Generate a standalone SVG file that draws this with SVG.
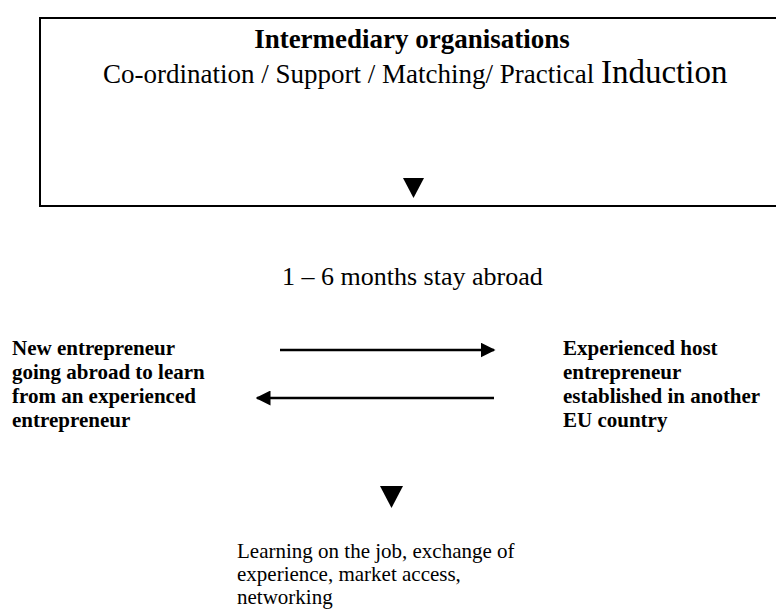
<svg xmlns="http://www.w3.org/2000/svg" width="776" height="610" viewBox="0 0 776 610">
<style>
text, tspan{font-family:"Liberation Serif","Times New Roman",serif;fill:#000}
.b{font-weight:bold;font-size:21px}
.n{font-size:21px}
.conn{stroke:#000;stroke-width:2.5;fill:none}
</style>
<defs>
<marker id="ah" viewBox="0 0 10 10" refX="9" refY="5" markerWidth="6" markerHeight="6" orient="auto" markerUnits="strokeWidth">
<path d="M0,0 L10,5 L0,10 Z" fill="#000"/>
</marker>
</defs>
<rect x="0" y="0" width="776" height="610" fill="#fff"/>
<g id="intermediary">
<rect x="40" y="18" width="760" height="188" fill="none" stroke="#000" stroke-width="2"/>
<text x="412" y="48" text-anchor="middle" font-weight="bold" font-size="27">Intermediary organisations</text>
<text x="103" y="83" font-size="27">Co-ordination / Support / Matching/ Practical <tspan font-family="'Liberation Serif', 'Times New Roman', serif" font-size="33">Induction</tspan></text>
<path d="M403,178 L424,178 L413.5,198 Z" fill="#000"/>
</g>
<g id="stay">
<text x="282" y="285" font-size="26">1 – 6 months stay abroad</text>
</g>
<g id="new-entrepreneur">
<text class="b" x="12" y="355">New  entrepreneur</text>
<text class="b" x="12" y="379">going abroad to learn</text>
<text class="b" x="12" y="403">from an experienced</text>
<text class="b" x="12" y="427">entrepreneur</text>
</g>
<g id="host-entrepreneur">
<text class="b" x="563" y="355">Experienced host</text>
<text class="b" x="563" y="379">entrepreneur</text>
<text class="b" x="563" y="403">established in another</text>
<text class="b" x="563" y="427">EU country</text>
</g>
<g id="connectors">
<line class="conn" x1="280" y1="350" x2="494" y2="350" marker-end="url(#ah)"/>
<line class="conn" x1="494" y1="398" x2="257" y2="398" marker-end="url(#ah)"/>
</g>
<g id="outcome">
<path d="M380,486 L403,486 L391.5,508 Z" fill="#000"/>
<text class="n" x="237" y="558">Learning on the job, exchange of</text>
<text class="n" x="237" y="581">experience, market access,</text>
<text class="n" x="237" y="604">networking</text>
</g>
</svg>
